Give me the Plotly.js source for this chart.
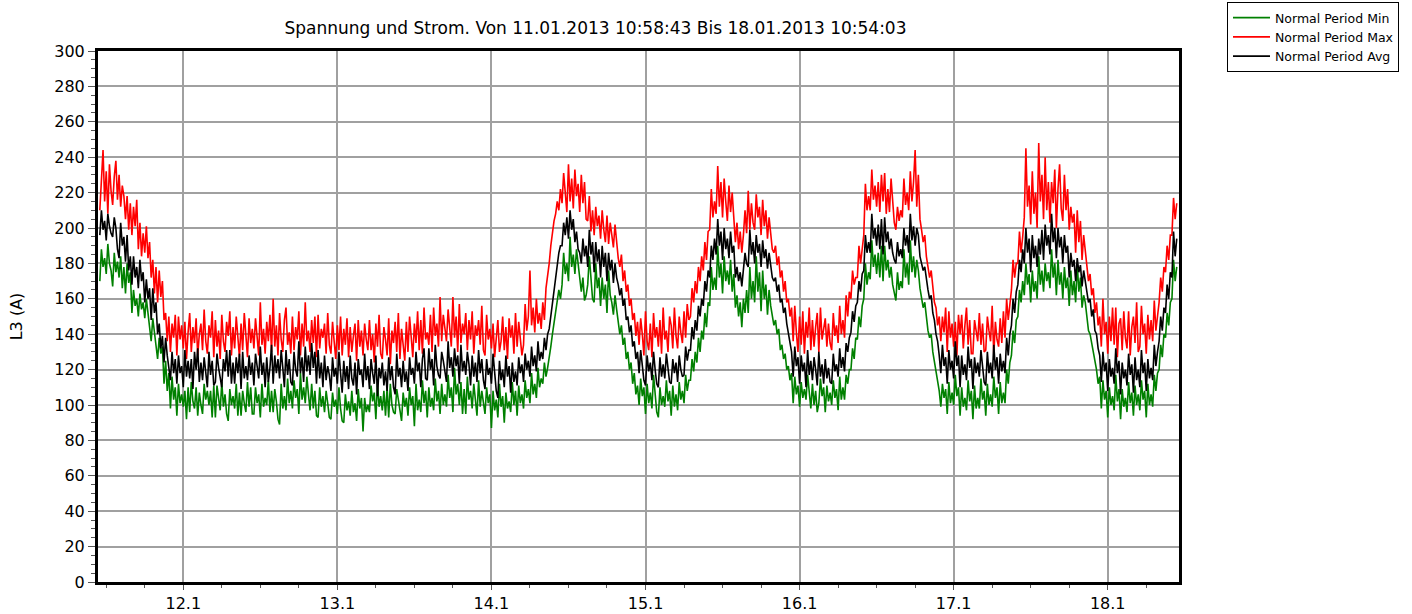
<!DOCTYPE html>
<html>
<head>
<meta charset="utf-8">
<script src="https://cdn.plot.ly/plotly-3.0.1.min.js"></script>
<style>
  html, body { margin: 0; padding: 0; background: #ffffff; }
  #chart { width: 1412px; height: 614px; }
</style>
</head>
<body>
<div id="chart"></div>
<script>
// Sampling: one value every 15 minutes, starting 11.01.2013 11:00 (one line = 6 hours)
const sampleStart = '2013-01-11T11:00:00Z';
const sampleStepMinutes = 15;

// Normal Period Min (green)
const minValues = [
  170,188,178,183, 174,191,180,176, 167,186,175,181, 172,184,166,178, 163,180,169,175, 152,165,156,160,
  150,163,154,158, 149,160,152,145, 136,149,140,131, 126,138,129,133, 112,125,108,118, 98,116,103,110,
  94,112,101,106, 99,108,92,110, 96,113,102,98, 110,94,107,100, 95,112,103,108, 100,108,93,111,
  93,111,102,97, 113,99,106,95, 91,109,100,105, 98,112,94,107, 94,108,101,96, 113,99,110,95,
  95,110,101,106, 93,112,99,104, 100,114,96,108, 96,109,102,92, 89,112,98,105, 97,115,101,108,
  98,114,104,109, 95,118,103,110, 101,116,106,97, 112,98,108,94, 93,110,99,105, 96,108,101,93,
  92,107,99,103, 95,110,98,91, 90,106,97,102, 94,108,96,101, 91,109,98,104, 85,104,96,100,
  96,111,102,107, 92,113,99,105, 97,108,94,110, 93,112,100,96, 95,109,103,98, 91,107,99,104,
  94,110,100,105, 88,112,97,103, 96,114,101,108, 93,110,99,104, 97,115,102,108, 95,112,100,106,
  99,117,104,110, 96,121,106,112, 100,113,95,109, 95,116,103,108, 98,112,104,94, 114,99,108,102,
  95,110,101,106, 87,108,97,103, 93,112,99,105, 90,107,98,102, 96,113,100,108, 94,111,101,106,
  98,114,104,109, 101,118,106,112, 104,121,110,115, 112,124,116,121, 126,133,140,146, 152,158,165,160,
  168,186,174,180, 170,195,178,185, 174,188,180,170, 164,172,159,162, 168,184,172,160, 158,180,166,172,
  156,172,160,168, 152,176,162,158, 151,162,154,148, 140,145,134,138, 126,130,120,124, 112,118,106,111,
  100,115,105,110, 95,112,101,107, 98,117,104,96, 93,110,100,105, 99,114,102,108, 94,111,99,106,
  97,113,103,108, 101,117,108,114, 114,126,119,130, 124,138,130,142, 137,152,144,158, 156,178,165,172,
  165,190,172,180, 163,184,170,176, 168,182,164,174, 155,162,150,158, 144,160,152,165, 152,178,160,170,
  158,184,164,175, 153,176,160,168, 151,165,156,150, 145,148,140,143, 131,134,126,129, 120,122,114,118,
  101,116,106,111, 99,113,104,109, 103,117,107,98, 112,100,108,96, 101,115,105,110, 96,111,102,107,
  100,114,104,109, 97,116,103,110, 103,117,112,120, 120,132,126,138, 137,150,144,156, 160,180,168,175,
  171,193,178,185, 174,186,172,190, 170,190,176,182, 172,178,168,163, 159,175,165,170, 166,188,172,180,
  168,193,175,184, 172,182,176,166, 160,155,158,148, 142,138,140,130, 124,118,114,108, 99,112,104,109,
  95,113,101,107, 100,117,105,110, 94,110,99,104, 97,114,102,108, 92,111,98,104, 98,115,103,108,
  94,112,100,106, 99,116,104,110, 95,113,101,107, 101,120,112,124, 128,142,135,148, 150,165,158,170,
  162,180,168,174, 158,176,164,170, 160,184,168,176, 164,180,170,175, 166,188,172,180, 162,182,168,175,
  160,178,166,172, 156,176,162,170, 158,180,164,172, 155,162,158,150, 142,140,135,130, 124,120,112,116,
  98,114,103,108, 93,110,100,105, 97,117,102,109, 92,109,99,104, 96,113,101,107, 94,111,100,106,
  97,114,103,108, 93,112,100,106, 99,117,108,118, 120,134,127,140, 138,152,145,158, 160,182,170,178
];

// Normal Period Max (red)
const maxValues = [
  210,226,244,215, 232,208,236,221, 213,229,238,216, 230,212,224,218, 205,218,199,214, 196,212,201,216,
  188,203,184,197, 186,201,183,192, 172,182,163,178, 158,176,161,170, 148,152,136,150, 130,146,138,151,
  128,150,137,145, 132,147,126,141, 152,130,144,135, 149,128,140,146, 131,154,136,129, 145,138,153,127,
  148,133,142,126, 151,136,130,147, 139,153,128,144, 132,150,137,127, 146,131,152,140, 127,149,135,143,
  132,149,138,128, 158,134,143,129, 147,136,151,130, 160,133,145,128, 152,137,130,148, 155,134,141,129,
  150,131,144,137, 153,128,146,133, 158,136,142,130, 148,135,150,127, 151,132,143,138, 146,129,152,134,
  129,147,136,126, 145,131,150,128, 143,134,149,127, 144,130,139,146, 125,148,133,142, 128,146,137,131,
  148,131,140,124, 146,133,151,129, 126,144,137,128, 149,123,142,135, 147,130,152,126, 143,134,125,147,
  130,150,138,127, 146,135,153,131, 148,129,155,137, 141,134,151,130, 155,139,146,133, 161,136,151,142,
  136,154,142,133, 161,138,150,130, 157,135,146,140, 152,131,148,137, 153,129,145,139, 148,134,156,131,
  128,151,137,143, 132,146,127,140, 148,130,136,150, 131,144,126,149, 138,145,129,152, 133,147,139,128,
  134,157,142,150, 176,145,155,141, 160,146,152,143, 158,148,166,172, 180,190,198,204, 208,215,210,222,
  214,231,220,209, 236,215,228,211, 233,218,225,209, 230,214,226,205, 204,218,198,210, 196,212,201,207,
  194,210,199,192, 207,191,203,196, 189,202,190,183, 178,185,170,176, 164,168,156,160, 148,152,139,147,
  134,149,140,128, 153,136,131,146, 127,152,138,144, 133,148,129,155, 137,142,130,150, 145,132,155,139,
  132,150,141,135, 153,138,157,148, 150,166,158,170, 163,178,170,184, 176,192,182,198, 199,222,206,215,
  208,235,212,226, 206,228,215,204, 224,209,220,202, 192,203,188,198, 186,196,210,197, 221,199,214,203,
  199,219,206,212, 196,216,201,210, 194,206,198,188, 186,190,179,184, 172,176,164,170, 158,160,150,155,
  136,156,141,130, 150,134,153,129, 147,138,155,131, 148,133,144,152, 130,155,137,142, 149,133,146,135,
  131,152,139,145, 135,156,140,148, 138,162,150,164, 160,176,168,172, 172,190,180,188, 196,225,210,218,
  210,233,216,224, 212,226,209,230, 215,231,208,222, 209,228,214,203, 199,212,204,210, 206,228,213,220,
  210,232,215,226, 244,212,230,205, 199,192,196,184, 178,172,176,165, 158,155,145,150, 136,150,141,155,
  130,153,138,146, 133,147,128,151, 140,151,132,145, 155,134,148,129, 129,148,141,136, 152,134,146,130,
  131,150,142,136, 156,128,147,137, 133,149,135,153, 138,160,148,158, 165,182,172,180, 180,198,186,195,
  206,245,212,224, 202,232,208,220, 200,248,215,230, 205,240,210,226, 203,226,214,233, 200,222,236,211,
  204,230,210,222, 199,212,203,208, 186,210,192,204, 182,196,188,178, 170,174,162,166, 152,158,145,150,
  133,160,140,147, 129,150,136,155, 134,155,127,146, 149,131,153,138, 132,153,128,144, 150,135,158,130,
  133,156,140,146, 129,151,137,148, 136,159,142,150, 158,172,164,178, 175,190,182,196, 196,217,205,214
];

// Normal Period Avg (black)
const avgValues = [
  196,210,199,204, 193,208,201,197, 195,206,200,188, 183,203,190,195, 181,196,176,184, 168,184,172,178,
  166,182,170,175, 158,171,160,166, 148,166,152,158, 140,146,132,139, 124,138,128,120, 114,130,118,126,
  112,128,118,122, 110,131,116,125, 115,126,109,130, 120,132,113,124, 114,127,119,110, 130,117,125,111,
  113,129,121,116, 110,126,119,131, 116,131,112,124, 112,127,118,129, 109,130,115,122, 114,128,117,124,
  111,129,120,115, 133,117,124,110, 127,113,121,134, 112,128,118,126, 115,131,121,110, 131,117,126,113,
  111,130,120,116, 136,118,127,113, 133,119,128,117, 135,121,130,112, 131,115,124,110, 128,114,122,117,
  108,127,116,121, 112,130,118,107, 125,113,122,109, 128,115,111,124, 106,126,117,120, 110,129,114,122,
  109,126,118,112, 128,105,121,115, 124,111,119,108, 127,114,122,110, 106,129,116,121, 110,125,113,119,
  108,127,117,121, 112,130,119,124, 110,126,132,115, 114,132,120,126, 111,134,122,117, 115,130,125,119,
  113,136,121,127, 116,132,122,128, 112,134,119,125, 117,130,123,111, 128,116,124,113, 131,118,126,114,
  109,126,117,121, 112,129,118,108, 104,125,114,120, 110,128,116,122, 107,124,113,119, 111,127,118,123,
  113,129,120,125, 116,133,122,128, 119,136,125,130, 126,138,131,140, 143,150,158,164, 172,180,186,190,
  190,203,196,206, 194,210,199,205, 192,198,188,186, 180,194,184,190, 178,199,185,192, 175,192,181,188,
  172,190,178,186, 170,186,176,182, 169,180,172,168, 162,166,156,160, 148,150,141,145, 133,136,126,130,
  118,131,122,114, 111,128,119,124, 114,130,120,112, 110,127,116,123, 115,129,121,113, 112,126,118,124,
  113,128,120,116, 117,133,125,131, 131,144,137,148, 142,156,150,160, 156,170,164,176, 172,190,182,194,
  185,205,190,198, 182,200,188,194, 183,198,186,190, 172,178,170,175, 167,176,186,180, 178,199,185,192,
  180,196,186,191, 178,193,183,188, 177,186,180,172, 170,172,164,168, 158,160,152,155, 146,141,136,130,
  116,133,122,127, 112,128,119,124, 110,131,117,125, 114,127,120,111, 130,116,123,112, 126,115,121,113,
  112,129,119,123, 116,132,121,127, 119,135,130,138, 141,153,147,156, 158,170,164,174, 176,196,186,192,
  186,208,194,200, 190,202,188,205, 185,206,192,198, 188,194,186,182, 180,192,184,188, 183,200,190,196,
  186,208,193,201, 190,200,196,184, 180,176,178,170, 165,160,162,152, 148,140,136,128, 118,134,122,127,
  112,131,120,125, 115,136,122,128, 110,128,117,123, 114,133,121,126, 109,127,118,124, 116,131,120,113,
  111,130,118,124, 115,134,120,127, 112,129,119,125, 118,138,128,140, 145,160,152,164, 168,182,175,188,
  180,200,186,194, 175,196,183,190, 178,194,185,199, 182,202,190,196, 185,208,192,200, 183,200,189,195,
  180,196,186,190, 172,186,178,182, 170,183,175,179, 167,176,170,164, 158,160,150,154, 142,140,132,128,
  113,130,119,124, 108,126,116,121, 112,132,118,125, 106,124,115,120, 111,129,117,123, 107,127,114,120,
  110,131,118,124, 108,126,115,121, 114,134,122,130, 136,150,142,155, 152,168,160,175, 172,198,184,194
];

const seriesNames = ['Normal Period Min', 'Normal Period Max', 'Normal Period Avg'];
const seriesColors = ['#008000', '#ff0000', '#000000'];

const dayTickVals = ['2013-01-12', '2013-01-13', '2013-01-14', '2013-01-15', '2013-01-16', '2013-01-17', '2013-01-18'];
const dayTickText = ['12.1', '13.1', '14.1', '15.1', '16.1', '17.1', '18.1'];
const yTickVals = [0, 20, 40, 60, 80, 100, 120, 140, 160, 180, 200, 220, 240, 260, 280, 300];

function timesFor(n) {
  const t0 = Date.parse(sampleStart);
  const out = [];
  for (let i = 0; i < n; i++) {
    out.push(new Date(t0 + i * sampleStepMinutes * 60000).toISOString().replace('T', ' ').slice(0, 19));
  }
  return out;
}

const seriesValues = [minValues, maxValues, avgValues];
const traces = seriesValues.map((vals, k) => ({
  type: 'scatter',
  mode: 'lines',
  name: seriesNames[k],
  x: timesFor(vals.length),
  y: vals,
  line: { color: seriesColors[k], width: 1.6 }
}));

const FONT = '"DejaVu Sans", Arial, sans-serif';

const layout = {
  width: 1412,
  height: 614,
  margin: { l: 98, r: 233, t: 51, b: 32, pad: 0 },
  paper_bgcolor: '#ffffff',
  plot_bgcolor: '#ffffff',
  font: { family: FONT, size: 16, color: '#000000' },
  title: {
    text: 'Spannung und Strom. Von 11.01.2013 10:58:43 Bis 18.01.2013 10:54:03',
    font: { family: FONT, size: 17, color: '#000000' },
    xref: 'container', x: 595.5 / 1412, xanchor: 'center',
    yref: 'container', y: 1 - 28 / 614, yanchor: 'middle'
  },
  showlegend: true,
  legend: {
    xref: 'container', yref: 'container',
    x: 1227 / 1412, y: 1 - 2 / 614, xanchor: 'left', yanchor: 'top',
    bgcolor: '#ffffff', bordercolor: '#000000', borderwidth: 1,
    font: { family: FONT, size: 12.5, color: '#000000' },
    tracegroupgap: 0,
    itemwidth: 37
  },
  xaxis: {
    type: 'date',
    range: ['2013-01-11 10:43:00', '2013-01-18 11:06:00'],
    tickmode: 'array',
    tickvals: dayTickVals,
    ticktext: dayTickText,
    ticks: 'outside', ticklen: 5, tickwidth: 1, tickcolor: '#555555',
    tickfont: { family: FONT, size: 16, color: '#000000' },
    showgrid: true, gridcolor: '#a0a0a0', gridwidth: 2,
    showline: true, linecolor: '#000000', linewidth: 3, mirror: true,
    zeroline: false,
    minor: {
      tickmode: 'linear', tick0: '2013-01-12', dtick: 6 * 3600 * 1000,
      ticks: 'outside', ticklen: 3, tickwidth: 1, tickcolor: '#555555', showgrid: false
    }
  },
  yaxis: {
    range: [0, 300],
    tickmode: 'array',
    tickvals: yTickVals,
    ticks: 'outside', ticklen: 7, tickwidth: 1, tickcolor: '#555555',
    tickfont: { family: FONT, size: 16, color: '#000000' },
    showgrid: true, gridcolor: '#a0a0a0', gridwidth: 2,
    showline: true, linecolor: '#000000', linewidth: 3, mirror: true,
    zeroline: false,
    title: { text: 'L3 (A)', font: { family: FONT, size: 16, color: '#000000' }, standoff: 28 },
    minor: {
      tickmode: 'linear', tick0: 0, dtick: 5,
      ticks: 'outside', ticklen: 4, tickwidth: 1, tickcolor: '#555555', showgrid: false
    }
  }
};

Plotly.newPlot('chart', traces, layout, { displayModeBar: false, staticPlot: true });
</script>
</body>
</html>
